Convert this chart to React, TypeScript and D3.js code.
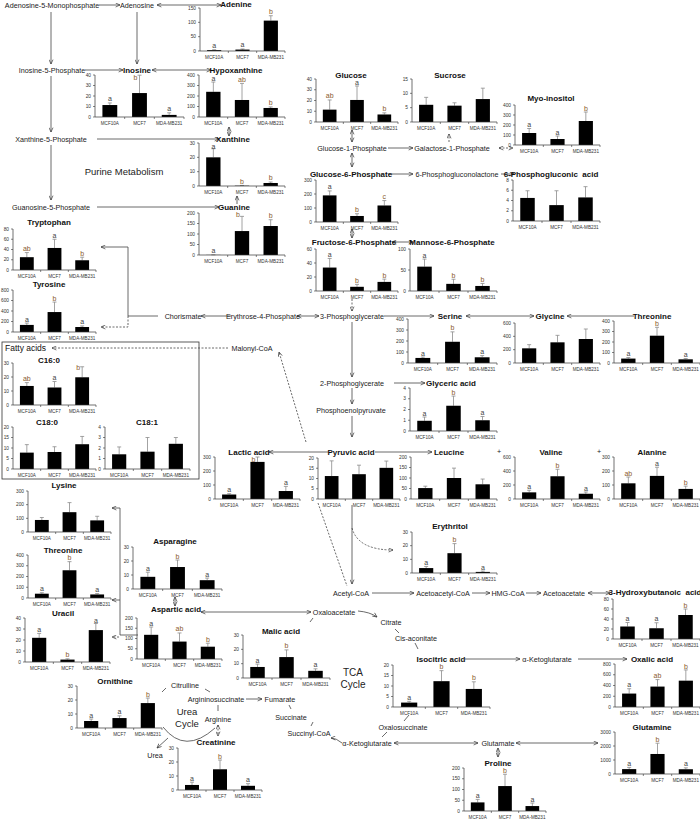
import React from "react";
import * as d3 from "d3";

const categories = ["MCF10A", "MCF7", "MDA-MB231"];

// ---- data (mean, sd, significance letters) ----
const adenineMean = [3, 5, 106]; const adenineSd = [1.5, 2, 17]; const adenineSig = ["a", "a", "b"];
const inosineMean = [11.4, 22.8, 2]; const inosineSd = [2, 17, 2]; const inosineSig = ["a", "b", "a"];
const hypoxMean = [240, 162, 86]; const hypoxSd = [93, 158, 10]; const hypoxSig = ["a", "ab", "b"];
const xanthineMean = [20, 0.2, 2.1]; const xanthineSd = [6, 0.2, 0.7]; const xanthineSig = ["a", "b", "b"];
const guanineMean = [0.5, 114, 138]; const guanineSd = [0.3, 70, 30]; const guanineSig = ["a", "b", "b"];
const tryptoMean = [25, 43, 19]; const tryptoSd = [9, 17, 6]; const tryptoSig = ["ab", "a", "b"];
const tyrosineMean = [135, 380, 95]; const tyrosineSd = [35, 190, 20]; const tyrosineSig = ["a", "b", "a"];
const c160Mean = [13.6, 12.5, 19.8]; const c160Sd = [2.4, 4.3, 7.5]; const c160Sig = ["ab", "a", "b"];
const c180Mean = [7.8, 8.1, 11.8]; const c180Sd = [3.8, 2.5, 3.7];
const c181Mean = [1.4, 1.65, 2.4]; const c181Sd = [0.7, 1.35, 0.6];
const lysineMean = [88, 145, 85]; const lysineSd = [18, 70, 30];
const threoLMean = [40, 258, 33]; const threoLSd = [9, 80, 8]; const threoLSig = ["a", "b", "a"];
const asparagineMean = [8.7, 15.7, 6.3]; const asparagineSd = [3.3, 5, 1.5]; const asparagineSig = ["a", "b", "a"];
const uracilMean = [22, 2.2, 29]; const uracilSd = [4, 0.7, 6]; const uracilSig = ["a", "b", "a"];
const asparticMean = [118, 85, 60]; const asparticSd = [38, 42, 17]; const asparticSig = ["a", "ab", "b"];
const ornithineMean = [5, 7.1, 17.8]; const ornithineSd = [1.4, 1.6, 3.6]; const ornithineSig = ["a", "a", "b"];
const creatinineMean = [3.6, 14.8, 3]; const creatinineSd = [2, 6.6, 1.5]; const creatinineSig = ["a", "b", "a"];
const malicMean = [7.7, 14.6, 5]; const malicSd = [2, 5, 1.4]; const malicSig = ["a", "b", "a"];
const isocitricMean = [2.1, 12.3, 8.6]; const isocitricSd = [0.6, 5, 3.4]; const isocitricSig = ["a", "b", "b"];
const oxalicMean = [250, 380, 490]; const oxalicSd = [90, 130, 200]; const oxalicSig = ["a", "ab", "b"];
const glutamineMean = [350, 1430, 340]; const glutamineSd = [120, 770, 100]; const glutamineSig = ["a", "b", "a"];
const prolineMean = [40, 116, 23]; const prolineSd = [14, 55, 14]; const prolineSig = ["a", "b", "a"];
const hbaMean = [25, 21.5, 48]; const hbaSd = [8, 11, 12]; const hbaSig = ["a", "a", "b"];
const lacticMean = [32, 265, 57]; const lacticSd = [6, 35, 33]; const lacticSig = ["a", "b", "a"];
const pyruvicMean = [11.2, 12.1, 15.2]; const pyruvicSd = [7.4, 4.4, 3.3];
const leucineMean = [52, 100, 70]; const leucineSd = [9, 47, 25];
const valineMean = [95, 325, 75]; const valineSd = [30, 100, 25]; const valineSig = ["a", "b", "a"];
const alanineMean = [112, 165, 72]; const alanineSd = [45, 62, 20]; const alanineSig = ["ab", "a", "b"];
const erythritolMean = [3.6, 14.5, 0.8]; const erythritolSd = [1.2, 7, 0.6]; const erythritolSig = ["a", "b", "a"];
const glycericMean = [0.95, 2.35, 1.0]; const glycericSd = [0.35, 0.9, 0.35]; const glycericSig = ["a", "b", "a"];
const serineMean = [46, 193, 52]; const serineSd = [8, 90, 15]; const serineSig = ["a", "b", "a"];
const glycineMean = [220, 310, 360]; const glycineSd = [55, 105, 150];
const threoRMean = [42, 260, 35]; const threoRSd = [10, 80, 8]; const threoRSig = ["a", "b", "a"];
const f6pMean = [33.5, 6, 13]; const f6pSd = [13, 3.5, 4]; const f6pSig = ["a", "b", "b"];
const m6pMean = [58, 17, 12]; const m6pSd = [18, 11, 6]; const m6pSig = ["a", "b", "b"];
const g6pMean = [190, 43, 118]; const g6pSd = [32, 16, 35]; const g6pSig = ["a", "b", "c"];
const pgaMean = [4.5, 3.1, 4.6]; const pgaSd = [1.4, 2.8, 2.1];
const glucoseMean = [11.5, 20.5, 7]; const glucoseSd = [9, 13, 1.5]; const glucoseSig = ["ab", "a", "b"];
const sucroseMean = [6, 5.7, 8]; const sucroseSd = [2.6, 1, 3.8];
const myoMean = [120, 60, 240]; const myoSd = [45, 30, 90]; const myoSig = ["a", "a", "b"];

// ---- layout ----
type Spec = {
  title: string; mean: number[]; sd: number[]; sig?: string[]; ticks: number[];
  ax: number; right: number; top: number; bottom: number; tx: number; ty: number;
};

const specs: Spec[] = [
  { title: "Adenine", mean: adenineMean, sd: adenineSd, sig: adenineSig, ticks: [0, 50, 100, 150], ax: 200, right: 285, top: 8, bottom: 51, tx: 236, ty: 4 },
  { title: "Inosine", mean: inosineMean, sd: inosineSd, sig: inosineSig, ticks: [0, 10, 20, 30, 40], ax: 95, right: 184, top: 75, bottom: 117, tx: 137, ty: 70 },
  { title: "Hypoxanthine", mean: hypoxMean, sd: hypoxSd, sig: hypoxSig, ticks: [0, 100, 200, 300, 400], ax: 199, right: 285, top: 75, bottom: 117, tx: 236, ty: 70 },
  { title: "Xanthine", mean: xanthineMean, sd: xanthineSd, sig: xanthineSig, ticks: [0, 10, 20, 30], ax: 199, right: 285, top: 143, bottom: 186, tx: 233, ty: 139 },
  { title: "Guanine", mean: guanineMean, sd: guanineSd, sig: guanineSig, ticks: [0, 50, 100, 150, 200], ax: 199, right: 285, top: 213, bottom: 255, tx: 234, ty: 207 },
  { title: "Tryptophan", mean: tryptoMean, sd: tryptoSd, sig: tryptoSig, ticks: [0, 20, 40, 60, 80], ax: 13, right: 96, top: 229, bottom: 270, tx: 49, ty: 222 },
  { title: "Tyrosine", mean: tyrosineMean, sd: tyrosineSd, sig: tyrosineSig, ticks: [0, 200, 400, 600, 800], ax: 13, right: 96, top: 290, bottom: 332, tx: 49, ty: 284 },
  { title: "C16:0", mean: c160Mean, sd: c160Sd, sig: c160Sig, ticks: [0, 10, 20, 30], ax: 13, right: 96, top: 363, bottom: 405, tx: 49, ty: 360 },
  { title: "C18:0", mean: c180Mean, sd: c180Sd, ticks: [0, 5, 10, 15, 20], ax: 13, right: 96, top: 427, bottom: 469, tx: 47, ty: 422 },
  { title: "C18:1", mean: c181Mean, sd: c181Sd, ticks: [0, 1, 2, 3, 4], ax: 105, right: 190, top: 427, bottom: 469, tx: 147, ty: 422 },
  { title: "Lysine", mean: lysineMean, sd: lysineSd, ticks: [0, 100, 200, 300], ax: 28, right: 111, top: 491, bottom: 532, tx: 64, ty: 485 },
  { title: "Threonine", mean: threoLMean, sd: threoLSd, sig: threoLSig, ticks: [0, 100, 200, 300, 400], ax: 28, right: 111, top: 555, bottom: 598, tx: 63, ty: 550 },
  { title: "Asparagine", mean: asparagineMean, sd: asparagineSd, sig: asparagineSig, ticks: [0, 10, 20, 30], ax: 133, right: 222, top: 547, bottom: 589, tx: 175, ty: 541 },
  { title: "Uracil", mean: uracilMean, sd: uracilSd, sig: uracilSig, ticks: [0, 10, 20, 30, 40], ax: 25, right: 110, top: 618, bottom: 662, tx: 63, ty: 613 },
  { title: "Aspartic acid", mean: asparticMean, sd: asparticSd, sig: asparticSig, ticks: [0, 50, 100, 150, 200], ax: 137, right: 222, top: 618, bottom: 659, tx: 176, ty: 609 },
  { title: "Ornithine", mean: ornithineMean, sd: ornithineSd, sig: ornithineSig, ticks: [0, 10, 20, 30], ax: 77, right: 162, top: 686, bottom: 728, tx: 115, ty: 681 },
  { title: "Creatinine", mean: creatinineMean, sd: creatinineSd, sig: creatinineSig, ticks: [0, 10, 20, 30], ax: 178, right: 262, top: 748, bottom: 790, tx: 216, ty: 742 },
  { title: "Malic acid", mean: malicMean, sd: malicSd, sig: malicSig, ticks: [0, 10, 20, 30], ax: 243, right: 330, top: 635, bottom: 678, tx: 281, ty: 631 },
  { title: "Isocitric acid", mean: isocitricMean, sd: isocitricSd, sig: isocitricSig, ticks: [0, 5, 10, 15, 20], ax: 393, right: 490, top: 665, bottom: 707, tx: 441, ty: 659 },
  { title: "Oxalic acid", mean: oxalicMean, sd: oxalicSd, sig: oxalicSig, ticks: [0, 200, 400, 600, 800], ax: 615, right: 700, top: 664, bottom: 707, tx: 652, ty: 659 },
  { title: "Glutamine", mean: glutamineMean, sd: glutamineSd, sig: glutamineSig, ticks: [0, 1000, 2000, 3000], ax: 615, right: 700, top: 732, bottom: 774, tx: 652, ty: 727 },
  { title: "Proline", mean: prolineMean, sd: prolineSd, sig: prolineSig, ticks: [0, 50, 100, 150, 200], ax: 464, right: 546, top: 768, bottom: 811, tx: 498, ty: 763 },
  { title: "3-Hydroxybutanoic  acid", mean: hbaMean, sd: hbaSd, sig: hbaSig, ticks: [0, 20, 40, 60, 80], ax: 613, right: 700, top: 599, bottom: 639, tx: 655, ty: 592 },
  { title: "Lactic acid", mean: lacticMean, sd: lacticSd, sig: lacticSig, ticks: [0, 100, 200, 300], ax: 215, right: 300, top: 457, bottom: 499, tx: 249, ty: 452 },
  { title: "Pyruvic acid", mean: pyruvicMean, sd: pyruvicSd, ticks: [0, 5, 10, 15, 20], ax: 318, right: 400, top: 458, bottom: 499, tx: 351, ty: 452 },
  { title: "Leucine", mean: leucineMean, sd: leucineSd, ticks: [0, 50, 100, 150, 200], ax: 411, right: 497, top: 457, bottom: 499, tx: 449, ty: 452 },
  { title: "Valine", mean: valineMean, sd: valineSd, sig: valineSig, ticks: [0, 200, 400, 600], ax: 515, right: 600, top: 457, bottom: 499, tx: 551, ty: 452 },
  { title: "Alanine", mean: alanineMean, sd: alanineSd, sig: alanineSig, ticks: [0, 100, 200, 300], ax: 614, right: 700, top: 457, bottom: 499, tx: 652, ty: 452 },
  { title: "Erythritol", mean: erythritolMean, sd: erythritolSd, sig: erythritolSig, ticks: [0, 10, 20, 30], ax: 412, right: 497, top: 532, bottom: 573, tx: 450, ty: 526 },
  { title: "Glyceric acid", mean: glycericMean, sd: glycericSd, sig: glycericSig, ticks: [0, 1, 2, 3, 4], ax: 410, right: 497, top: 388, bottom: 431, tx: 451, ty: 383 },
  { title: "Serine", mean: serineMean, sd: serineSd, sig: serineSig, ticks: [0, 100, 200, 300, 400], ax: 408, right: 497, top: 319, bottom: 363, tx: 450, ty: 316 },
  { title: "Glycine", mean: glycineMean, sd: glycineSd, ticks: [0, 200, 400, 600], ax: 515, right: 600, top: 323, bottom: 363, tx: 550, ty: 316 },
  { title: "Threonine", mean: threoRMean, sd: threoRSd, sig: threoRSig, ticks: [0, 100, 200, 300, 400], ax: 614, right: 700, top: 321, bottom: 363, tx: 652, ty: 316 },
  { title: "Fructose-6-Phosphate", mean: f6pMean, sd: f6pSd, sig: f6pSig, ticks: [0, 20, 40, 60], ax: 316, right: 398, top: 249, bottom: 291, tx: 354, ty: 242 },
  { title: "Mannose-6-Phosphate", mean: m6pMean, sd: m6pSd, sig: m6pSig, ticks: [0, 50, 100], ax: 410, right: 497, top: 249, bottom: 291, tx: 452, ty: 242 },
  { title: "Glucose-6-Phosphate", mean: g6pMean, sd: g6pSd, sig: g6pSig, ticks: [0, 100, 200, 300], ax: 316, right: 398, top: 180, bottom: 222, tx: 351, ty: 174 },
  { title: "6-Phosphogluconic  acid", mean: pgaMean, sd: pgaSd, ticks: [0, 2, 4, 6, 8], ax: 513, right: 600, top: 180, bottom: 221, tx: 551, ty: 174 },
  { title: "Glucose", mean: glucoseMean, sd: glucoseSd, sig: glucoseSig, ticks: [0, 10, 20, 30, 40], ax: 316, right: 398, top: 79, bottom: 122, tx: 351, ty: 75 },
  { title: "Sucrose", mean: sucroseMean, sd: sucroseSd, ticks: [0, 5, 10, 15], ax: 412, right: 497, top: 79, bottom: 122, tx: 450, ty: 75 },
  { title: "Myo-inositol", mean: myoMean, sd: myoSd, sig: myoSig, ticks: [0, 100, 200, 300, 400], ax: 515, right: 600, top: 105, bottom: 145, tx: 551, ty: 98 },
];

type Label = { t: string; x: number; y: number; size?: number };
const labels: Label[] = [
  { t: "Adenosine-5-Monophosphate", x: 52, y: 5 },
  { t: "Adenosine", x: 137, y: 5 },
  { t: "Inosine-5-Phosphate", x: 52, y: 70 },
  { t: "Xanthine-5-Phosphate", x: 51, y: 139 },
  { t: "Guanosine-5-Phosphate", x: 51, y: 207 },
  { t: "Purine Metabolism", x: 124, y: 171, size: 9.5 },
  { t: "Glucose-1-Phosphate", x: 352, y: 148 },
  { t: "Galactose-1-Phosphate", x: 452, y: 148 },
  { t: "6-Phosphogluconolactone", x: 457, y: 174 },
  { t: "Chorismate", x: 183, y: 316 },
  { t: "Erythrose-4-Phosphate", x: 263, y: 316 },
  { t: "3-Phosphoglycerate", x: 352, y: 316 },
  { t: "Malonyl-CoA", x: 252, y: 348 },
  { t: "2-Phosphoglycerate", x: 352, y: 383 },
  { t: "Phosphoenolpyruvate", x: 351, y: 410 },
  { t: "Acetyl-CoA", x: 351, y: 593 },
  { t: "Acetoacetyl-CoA", x: 443, y: 593 },
  { t: "HMG-CoA", x: 508, y: 593 },
  { t: "Acetoacetate", x: 564, y: 593 },
  { t: "Oxaloacetate", x: 334, y: 612 },
  { t: "Citrate", x: 391, y: 622 },
  { t: "Cis-aconitate", x: 416, y: 638 },
  { t: "α-Ketoglutarate", x: 547, y: 659 },
  { t: "Oxalosuccinate", x: 403, y: 727 },
  { t: "α-Ketoglutarate", x: 367, y: 743 },
  { t: "Glutamate", x: 498, y: 743 },
  { t: "Succinyl-CoA", x: 309, y: 733 },
  { t: "Succinate", x: 291, y: 717 },
  { t: "Fumarate", x: 280, y: 699 },
  { t: "Argininosuccinate", x: 216, y: 699 },
  { t: "Citrulline", x: 185, y: 685 },
  { t: "Arginine", x: 218, y: 719 },
  { t: "Urea", x: 155, y: 755 },
  { t: "Urea", x: 187, y: 711, size: 9.5 },
  { t: "Cycle", x: 187, y: 723, size: 9.5 },
  { t: "TCA", x: 353, y: 672, size: 10 },
  { t: "Cycle", x: 353, y: 684, size: 10 },
  { t: "+", x: 499, y: 451 },
  { t: "+", x: 599, y: 451 },
];

type Arrow = { d: string; e?: boolean; s?: boolean; dash?: boolean };
const arrows: Arrow[] = [
  { d: "M99,5H120", e: true },
  { d: "M157,5H221", e: true, s: true },
  { d: "M51,12V64", e: true },
  { d: "M137,12V64", e: true },
  { d: "M85,70H123", e: true },
  { d: "M152,70H211", e: true, s: true },
  { d: "M51,76V132", e: true },
  { d: "M97,139H219", e: true },
  { d: "M229,127V136", e: true, s: true },
  { d: "M51,145V200", e: true },
  { d: "M97,207H219", e: true },
  { d: "M237,204V196", e: true },
  { d: "M352,130V142", e: true, s: true },
  { d: "M388,148H413", e: true },
  { d: "M449,142V134", e: true, dash: true },
  { d: "M499,148H513", e: true, s: true, dash: true },
  { d: "M352,153V167", e: true, s: true },
  { d: "M388,174H413", e: true },
  { d: "M501,174H514", e: true },
  { d: "M352,229V238", e: true, s: true },
  { d: "M392,242H413", e: true, s: true },
  { d: "M352,299V311", e: true, dash: true },
  { d: "M297,316H319", e: true, s: true },
  { d: "M231,316H201", e: true },
  { d: "M158,316H128V247H101", e: true },
  { d: "M128,316V327H101", e: true, dash: true },
  { d: "M228,348H52", e: true, dash: true },
  { d: "M306,442L279,352", e: true, dash: true },
  { d: "M384,316H434", e: true },
  { d: "M466,316H534", e: true, s: true },
  { d: "M634,316H567", e: true },
  { d: "M352,322V377", e: true },
  { d: "M394,383H425", e: true },
  { d: "M352,388V404", e: true },
  { d: "M352,416V437", e: true },
  { d: "M328,452H269", e: true },
  { d: "M375,452H432", e: true },
  { d: "M352,505V584", e: true },
  { d: "M352,528Q358,550 393,550", e: true, dash: true },
  { d: "M318,503L347,586", dash: true },
  { d: "M372,593H414", e: true },
  { d: "M472,593H490", e: true },
  { d: "M526,593H541", e: true },
  { d: "M588,593H610", e: true, s: true },
  { d: "M201,612H311", e: true, s: true },
  { d: "M175,597V606", e: true, s: true },
  { d: "M138,635H120V508H112", e: true },
  { d: "M120,600H112", e: true },
  { d: "M119,637H112", e: true, dash: true },
  { d: "M358,611Q370,612 377,617", e: true },
  { d: "M395,629L399,633" },
  { d: "M415,643L418,649" },
  { d: "M465,659H520", e: true },
  { d: "M578,659H627", e: true },
  { d: "M409,715L404,721" },
  { d: "M387,732L382,737" },
  { d: "M394,743H478", e: true, s: true },
  { d: "M516,743H598", e: true, s: true },
  { d: "M498,748V757", e: true, s: true },
  { d: "M342,743Q336,738 331,738", e: true },
  { d: "M313,722L311,726" },
  { d: "M289,705L291,709" },
  { d: "M246,699H262", e: true },
  { d: "M310,622L313,618" },
  { d: "M162,692L166,688" },
  { d: "M205,689L210,692" },
  { d: "M218,705V711" },
  { d: "M218,725V736", e: true, s: true, dash: true },
  { d: "M163,727Q185,755 215,728" },
  { d: "M168,738L157,748", e: true },
];

const FONT = "'Liberation Sans', Arial, sans-serif";

function sigColor(l: string) {
  return l === "a" ? "#444" : "#8a5a2e";
}

function MiniChart({ s }: { s: Spec }) {
  const max = s.ticks[s.ticks.length - 1];
  const y = d3.scaleLinear().domain([0, max]).range([s.bottom, s.top]);
  const x = d3.scaleBand<string>().domain(categories).range([s.ax, s.right]).paddingInner(0.5).paddingOuter(0.25);
  const bw = x.bandwidth();
  const step = x.step();
  const start = s.ax;
  return (
    <g>
      <text x={s.tx} y={s.ty} textAnchor="middle" dominantBaseline="central" fontSize={8} fontWeight="bold" fill="#111" style={{ whiteSpace: "pre" }}>{s.title}</text>
      {s.mean.map((m, i) => {
        const c = categories[i];
        const cx = (x(c) as number) + bw / 2;
        const yTop = y(m + s.sd[i]);
        const ly = Math.max(yTop - 1.5, s.ty + 9.5);
        return (
          <g key={c}>
            <line x1={cx} x2={cx} y1={y(m)} y2={yTop} stroke="#8c8c8c" strokeWidth={0.8} />
            <line x1={cx - 2} x2={cx + 2} y1={yTop} y2={yTop} stroke="#8c8c8c" strokeWidth={0.8} />
            <rect x={x(c)} y={y(m)} width={bw} height={s.bottom - y(m)} fill="#000" />
            {s.sig && (
              <text x={ly > yTop ? cx - 4 : cx} y={ly} textAnchor="middle" fontSize={7} fill={sigColor(s.sig[i])}>{s.sig[i]}</text>
            )}
            <text x={cx} y={s.bottom + 6} textAnchor="middle" dominantBaseline="central" fontSize={4.6} fill="#333">{c}</text>
          </g>
        );
      })}
      <line x1={s.ax} x2={s.ax} y1={s.top} y2={s.bottom} stroke="#333" strokeWidth={0.7} />
      <line x1={s.ax} x2={s.right} y1={s.bottom} y2={s.bottom} stroke="#333" strokeWidth={0.7} />
      {[1, 2, 3].map((k) => (
        <line key={k} x1={start + k * step} x2={start + k * step} y1={s.bottom} y2={s.bottom + 2} stroke="#333" strokeWidth={0.6} />
      ))}
      {s.ticks.map((t) => (
        <g key={t}>
          <line x1={s.ax - 2} x2={s.ax} y1={y(t)} y2={y(t)} stroke="#333" strokeWidth={0.6} />
          <text x={s.ax - 4} y={y(t)} textAnchor="end" dominantBaseline="central" fontSize={4.8} fill="#333">{t}</text>
        </g>
      ))}
    </g>
  );
}

export default function App() {
  return (
    <svg width={700} height={822} style={{ position: "absolute", left: 0, top: 0, background: "#fff", fontFamily: FONT }}>
      <defs>
        <marker id="ah" viewBox="0 0 8 8" refX={7.5} refY={4} markerWidth={5} markerHeight={5} orient="auto-start-reverse" markerUnits="userSpaceOnUse">
          <path d="M0.5,0.8 L7.5,4 L0.5,7.2" fill="none" stroke="#333" strokeWidth={1.1} />
        </marker>
      </defs>
      <rect x={0} y={0} width={700} height={822} fill="#fff" />
      <rect x={2} y={342} width={197} height={137} fill="none" stroke="#333" strokeWidth={0.8} />
      <text x={5} y={348} dominantBaseline="central" fontSize={8.5} fill="#111">Fatty acids</text>
      {arrows.map((a, i) => (
        <path key={i} d={a.d} fill="none" stroke="#444" strokeWidth={0.8}
          strokeDasharray={a.dash ? "2,1.5" : undefined}
          markerEnd={a.e ? "url(#ah)" : undefined}
          markerStart={a.s ? "url(#ah)" : undefined} />
      ))}
      {labels.map((l, i) => (
        <text key={i} x={l.x} y={l.y} textAnchor="middle" dominantBaseline="central" fontSize={l.size ?? 7.2} fill="#222">{l.t}</text>
      ))}
      {specs.map((s, i) => <MiniChart key={i} s={s} />)}
    </svg>
  );
}
